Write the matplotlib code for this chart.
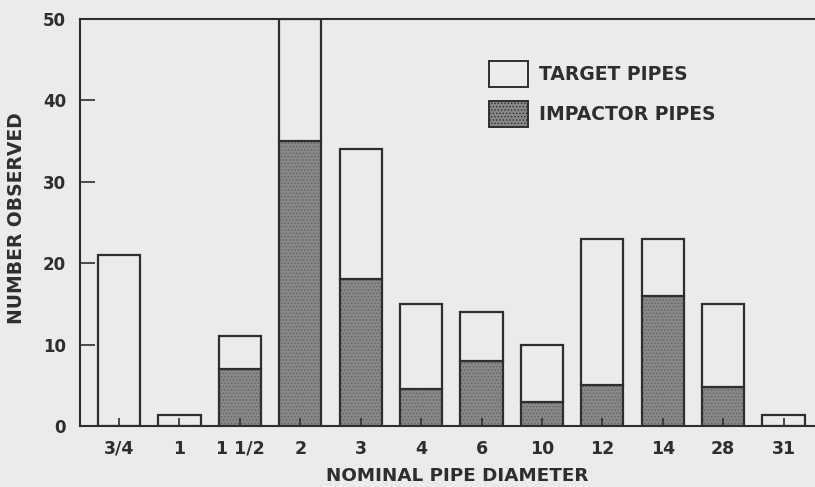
import matplotlib
matplotlib.use('Agg')
import matplotlib.pyplot as plt
from matplotlib.patches import Patch
import numpy as np

# nominal pipe diameters and counts
diameters = ['3/4', '1', '1 1/2', '2', '3', '4', '6', '10', '12', '14', '28', '31']
impactor = [0, 0, 7, 35, 18, 4.5, 8, 3, 5, 16, 4.8, 0]
total = [21, 1.3, 11, 50, 34, 15, 14, 10, 23, 23, 15, 1.3]
target = [t - i for t, i in zip(total, impactor)]

bg = '#ebebeb'
ink = '#2e2e2e'
dark = '#888888'

plt.rcParams['font.family'] = 'DejaVu Sans'
plt.rcParams['hatch.linewidth'] = 0.6

fig = plt.figure(figsize=(8.15, 4.87), dpi=100)
fig.patch.set_facecolor(bg)
ax = fig.add_axes([0.0982, 0.1253, 0.9018, 0.8357])
ax.set_facecolor(bg)
ax.set_axisbelow(False)

x = np.arange(len(diameters))
w = 0.7

# impactor part: gray fill with fine dotted texture, then black outline
ax.bar(x, impactor, w, color=dark, edgecolor='#626262', hatch='.....', linewidth=0, zorder=1.2)
ax.bar(x, impactor, w, fill=False, edgecolor=ink, linewidth=1.6, zorder=1.3)
# target part on top
ax.bar(x, target, w, bottom=impactor, color=bg, edgecolor=ink, linewidth=1.6, zorder=1.3)

ax.set_xlim(-0.646, 11.52)
ax.set_ylim(0, 50)
ax.set_yticks([0, 10, 20, 30, 40, 50])
ax.set_xticks(x)
ax.set_xticklabels(diameters)

ax.tick_params(axis='y', direction='in', length=11, width=1.2, color=ink,
               labelsize=12, labelcolor=ink, pad=10)
ax.tick_params(axis='x', direction='in', length=6, width=1.2, color=ink,
               labelsize=12.5, labelcolor=ink, pad=10)
for lab in ax.get_yticklabels() + ax.get_xticklabels():
    lab.set_fontweight('bold')

for s in ['left', 'top', 'bottom']:
    ax.spines[s].set_color(ink)
    ax.spines[s].set_linewidth(1.5)
ax.spines['right'].set_visible(False)

ax.set_xlabel('NOMINAL PIPE DIAMETER', fontsize=13.2, fontweight='bold', color=ink)
ax.xaxis.set_label_coords(0.513, -0.101)
ax.set_ylabel('NUMBER OBSERVED', fontsize=13.5, fontweight='bold', color=ink)
ax.yaxis.set_label_coords(-0.0735, 0.51)

handles = [Patch(facecolor=bg, edgecolor=ink, linewidth=1.4),
           Patch(facecolor=dark, edgecolor=ink, linewidth=1.4, hatch='.....')]
leg = ax.legend(handles, ['TARGET PIPES', 'IMPACTOR PIPES'],
                loc='upper left', bbox_to_anchor=(489 / 815, 1 - 61 / 487),
                bbox_transform=fig.transFigure, frameon=False,
                handlelength=2.08, handleheight=1.757, labelspacing=0.75,
                handletextpad=0.6, borderpad=0, borderaxespad=0,
                prop={'size': 13.5, 'weight': 'bold'})
for t in leg.get_texts():
    t.set_color(ink)

fig.savefig('out.png', dpi=100, facecolor=bg)
